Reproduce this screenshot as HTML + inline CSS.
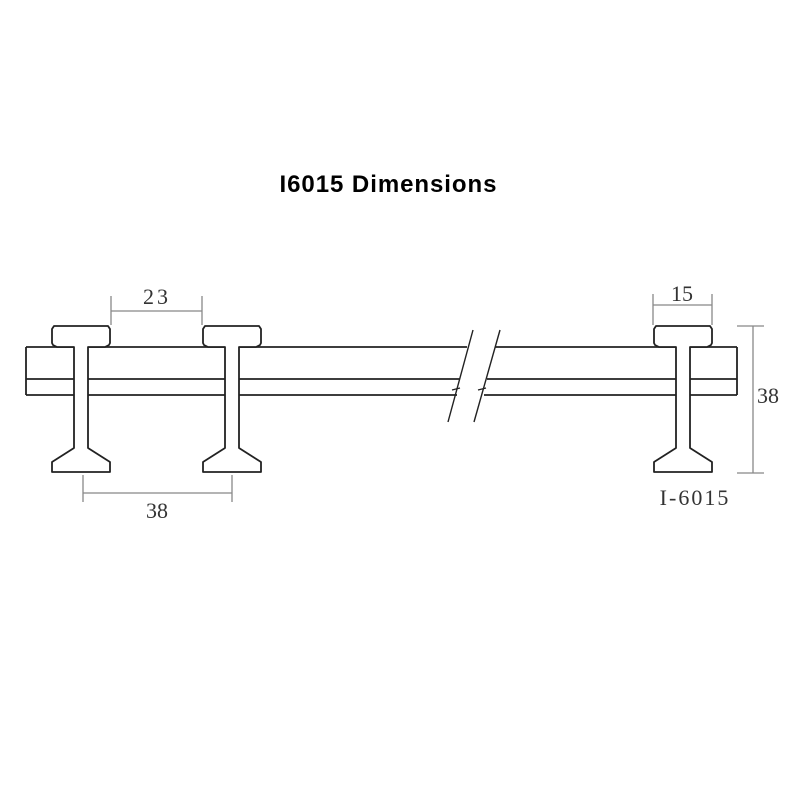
<!DOCTYPE html>
<html><head><style>body{margin:0;background:#fff}svg{display:block}</style></head><body>
<svg width="800" height="800" viewBox="0 0 800 800" xmlns="http://www.w3.org/2000/svg">
<rect width="800" height="800" fill="#fff"/>
<text x="388" y="192" text-anchor="middle" font-family="Liberation Sans, Arial, sans-serif" font-weight="bold" font-size="24" textLength="217" fill="#000">I6015 Dimensions</text>
<defs>
<g id="beam" fill="#fff" stroke="#222" stroke-width="1.8" stroke-linejoin="round">
<path d="M-24,347 L-28,345 L-29,343 L-29,329 L-27,326 L27,326 L29,329 L29,343 L28,345 L24,347 L7,347 L7,448 L29,462 L29,472 L-29,472 L-29,462 L-7,448 L-7,347 Z"/>
</g>
</defs>
<g fill="none" stroke="#222" stroke-width="1.8">
<line x1="26" y1="347" x2="26" y2="395"/>
<line x1="26" y1="347" x2="467" y2="347"/>
<line x1="495" y1="347" x2="737" y2="347"/>
<line x1="26" y1="379" x2="460" y2="379"/>
<line x1="487" y1="379" x2="737" y2="379"/>
<line x1="26" y1="395" x2="457" y2="395"/>
<line x1="484" y1="395" x2="737" y2="395"/>
<line x1="737" y1="347" x2="737" y2="395"/>
<line x1="473" y1="330" x2="448" y2="422" stroke-width="1.4"/>
<line x1="500" y1="330" x2="474" y2="422" stroke-width="1.4"/>
<path d="M452,390 l8,-2 M478,390 l8,-2" stroke-width="1.4"/>
</g>
<use href="#beam" x="81"/>
<use href="#beam" x="232"/>
<use href="#beam" x="683"/>
<g stroke="#888" stroke-width="1.3" fill="none">
<line x1="111" y1="296" x2="111" y2="325"/>
<line x1="202" y1="296" x2="202" y2="325"/>
<line x1="111" y1="311" x2="202" y2="311"/>
<line x1="83" y1="475" x2="83" y2="502"/>
<line x1="232" y1="475" x2="232" y2="502"/>
<line x1="83" y1="493" x2="232" y2="493"/>
<line x1="653" y1="294" x2="653" y2="325"/>
<line x1="712" y1="294" x2="712" y2="325"/>
<line x1="653" y1="305" x2="712" y2="305"/>
<line x1="737" y1="326" x2="764" y2="326"/>
<line x1="737" y1="473" x2="764" y2="473"/>
<line x1="753" y1="326" x2="753" y2="473"/>
</g>
<g font-family="Liberation Serif, serif" font-size="22" fill="#333" text-anchor="middle">
<text x="157" y="304" letter-spacing="3">23</text>
<text x="157" y="518">38</text>
<text x="682" y="301">15</text>
<text x="768" y="403">38</text>
<text x="695" y="505" letter-spacing="2">I-6015</text>
</g>
</svg>
</body></html>
